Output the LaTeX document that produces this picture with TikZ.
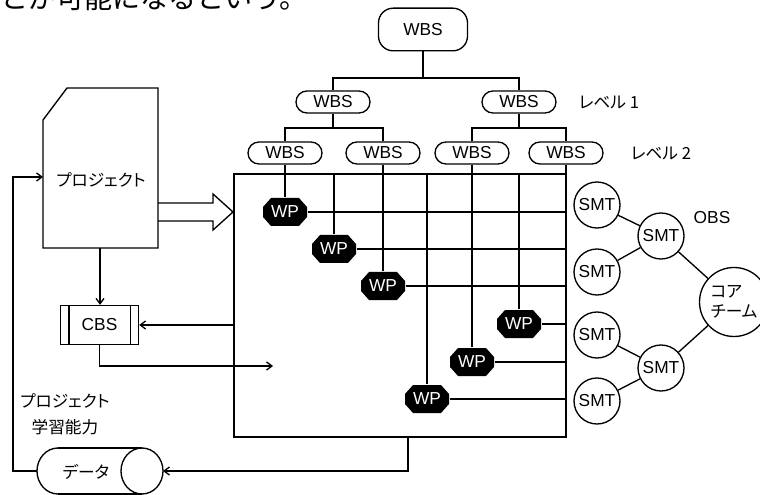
\documentclass[tikz,border=0pt]{standalone}
\usepackage{fontspec}
\setmainfont{Liberation Sans}
\newfontfamily\jp[RawFeature=+palt]{Noto Sans CJK JP}
\newfontfamily\jpfull{Noto Sans CJK JP}
\usetikzlibrary{shapes.misc,arrows.meta,calc}
\begin{document}
\begin{tikzpicture}[x=0.75pt,y=-0.75pt, line width=1pt,
 lat/.style={font=\fontsize{13}{15}\selectfont},
 jpt/.style={font=\jp\fontsize{12.5}{15}\selectfont},
 wbstop/.style={draw, rounded corners=11pt, minimum width=66.75pt, minimum height=32pt, inner sep=0pt, lat},
 wbs/.style={draw, rounded rectangle, minimum width=55.5pt, minimum height=16.5pt, inner sep=0pt, lat},
 wpbox/.style={rectangle, text=white, minimum width=33pt, minimum height=21pt, inner sep=0pt, lat,
   path picture={\fill[black] ([shift={(-16.5pt,3.75pt)}]path picture bounding box.center)
     -- ++(6pt,6.75pt) -- ++(21pt,0pt) -- ++(6pt,-6.75pt) -- ++(0pt,-7.5pt)
     -- ++(-6pt,-6.75pt) -- ++(-21pt,0pt) -- ++(-6pt,6.75pt) -- cycle;}},
 smt/.style={draw, circle, minimum size=34.5pt, inner sep=0pt, lat},
 arr/.style={-{Straight Barb[length=4pt,width=6pt]}}
]
\clip (0,0) rectangle (760,495);
\fill[white] (0,0) rectangle (760,495);
% top cut text
\node[font=\jpfull\fontsize{21}{24}\selectfont, anchor=base west, inner sep=0pt] (toptext) at (0,9) {とが可能になるという。};
% WBS tree
\node[wbstop] (top) at (423,29.5) {WBS};
\node[wbs] (l1a) at (333,102) {WBS};
\node[wbs] (l1b) at (519,102) {WBS};
\node[wbs] (l2a) at (285,153) {WBS};
\node[wbs] (l2b) at (383,153) {WBS};
\node[wbs] (l2c) at (472,153) {WBS};
\node[wbs] (l2d) at (566,153) {WBS};
\node[jpt] (lv1) at (609,102) {レベル 1};
\node[jpt] (lv2) at (661,153) {レベル 2};
\coordinate (j0) at (423,78);
\coordinate (j1) at (333,128);
\coordinate (j2) at (519,128);
\draw (top.south) -- (j0);
\draw (l1a.north) |- (j0) -| (l1b.north);
\draw (l1a.south) -- (j1);
\draw (l2a.north) |- (j1) -| (l2b.north);
\draw (l1b.south) -- (j2);
\draw (l2c.north) |- (j2) -| (l2d.north);
% matrix
\node[draw, minimum width=249pt, minimum height=197.25pt, inner sep=0pt] (mat) at (400,305.5) {};
\foreach \n in {l2a,l2b,l2c,l2d} \draw (\n.south) -- (\n.south |- mat.north);
\node[wpbox] (wp1) at (285,212) {WP};
\node[wpbox] (wp2) at (334,249) {WP};
\node[wpbox] (wp3) at (383,286) {WP};
\node[wpbox] (wp4) at (519,324) {WP};
\node[wpbox] (wp5) at (472,362) {WP};
\node[wpbox] (wp6) at (427,399) {WP};
\foreach \n in {wp1,wp2,wp3,wp4,wp5,wp6} {
  \draw (\n.north) -- (\n.north |- mat.north);
  \draw (\n.east) -- (\n.east -| mat.east);
}
% OBS
\node[smt] (s1) at (597,205) {SMT};
\node[smt] (s2) at (597,272) {SMT};
\node[smt] (m1) at (661,236) {SMT};
\node[smt] (s3) at (597,335) {SMT};
\node[smt] (s4) at (597,401) {SMT};
\node[smt] (m2) at (661,368) {SMT};
\node[draw, circle, minimum size=51.75pt, inner sep=0pt, jpt, align=left] (core) at (734,302) {コア\\チーム};
\node[lat] (obs) at (712,218) {OBS};
\draw (s1) -- (m1);
\draw (s2) -- (m1);
\draw (m1) -- (core);
\draw (s3) -- (m2);
\draw (s4) -- (m2);
\draw (m2) -- (core);
% project document
\draw (43,120) -- (67,88) -- (158,88) -- (158,248) -- (43,248) -- cycle;
\node[jpt] (proj) at (101,180) {プロジェクト};
\coordinate (docS) at (100,248);
\coordinate (docW) at (43,177);
% hollow arrow
\draw[line join=miter] (158,203) -- (213,203) -- (213,194) -- (233,212) -- (213,230) -- (213,221) -- (158,221);
% CBS
\node[draw, minimum width=58.5pt, minimum height=29.25pt, inner sep=0pt, lat] (cbs) at (99.5,325) {CBS};
\draw ([xshift=6.75pt]cbs.north west) -- ([xshift=6.75pt]cbs.south west);
\draw ([xshift=-6.75pt]cbs.north east) -- ([xshift=-6.75pt]cbs.south east);
\draw[arr] (docS) -- (docS |- cbs.north);
\draw[arr] (cbs.east -| mat.west) -- (cbs.east);
\coordinate (cbsend) at (273,366);
\draw[arr] (cbs.south) |- (cbsend);
% learning label
\node[jpt, align=center, font=\jp\fontsize{12.5}{19.5}\selectfont] (learn) at (65,414) {プロジェクト\\学習能力};
% data cylinder
\draw (58,448) -- (142,448);
\draw (58,494) -- (142,494);
\draw (142,471) ellipse [x radius=15.75pt, y radius=17.25pt];
\draw (58,448) arc[start angle=90, end angle=270, x radius=15.75pt, y radius=17.25pt];
\node[jpt] (data) at (86,472) {データ};
\coordinate (dataL) at (37,471);
\coordinate (dataR) at (163,471);
\draw[arr] (mat.south -| 408,0) |- (dataR);
\draw[arr] (dataL) -- ++(-24,0) |- (docW);
\end{tikzpicture}
\end{document}
